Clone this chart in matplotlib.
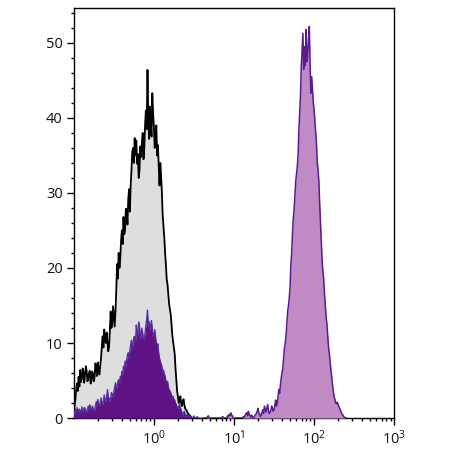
"""Flow cytometry overlay: isotype control (grey), unstained (dark purple), stained (light purple)."""

import matplotlib
matplotlib.use("Agg")
import matplotlib.pyplot as plt
import numpy as np
from matplotlib.ticker import LogLocator, MultipleLocator

plt.rcParams["font.family"] = ["Open Sans", "DejaVu Sans"]
plt.rcParams["mathtext.fontset"] = "custom"
plt.rcParams["mathtext.rm"] = "Open Sans"

# histogram bins: log10 centres, step 0.01 decade
LOG_STEP = 0.01

# grey isotype histogram, bins from log10 = -1.00 to 0.48
isotype_start = -1.0
isotype_counts = [
    1.0, 1.6, 2.5, 3.9, 4.6, 3.6, 5.5, 4.2, 6.4, 4.8,
    5.2, 6.6, 6.1, 4.7, 5.7, 6.9, 6.3, 4.9, 5.2, 6.0,
    6.3, 4.6, 5.0, 6.2, 5.9, 4.9, 5.5, 7.3, 6.8, 5.6,
    7.4, 6.1, 5.8, 7.0, 8.0, 9.6, 10.9, 9.4, 11.8, 10.3,
    10.0, 11.4, 10.1, 8.9, 9.5, 11.6, 14.2, 12.0, 12.8, 14.9,
    13.6, 12.2, 14.2, 16.9, 20.5, 18.6, 22.0, 20.0, 21.3, 23.6,
    25.0, 23.2, 26.8, 24.5, 25.1, 27.9, 27.6, 25.8, 29.2, 30.5,
    27.5, 31.0, 33.0, 35.5, 36.0, 34.0, 37.3, 35.0, 37.0, 33.9,
    35.2, 32.0, 33.0, 36.2, 34.8, 36.6, 38.0, 34.5, 36.0, 39.2,
    41.0, 38.5, 46.4, 40.0, 37.2, 41.5, 39.8, 37.5, 43.3, 40.6,
    38.8, 36.0, 37.0, 39.0, 35.0, 36.4, 33.5, 31.0, 34.0, 32.2,
    30.0, 27.0, 25.5, 24.0, 22.0, 20.4, 18.5, 17.8, 16.5, 15.2,
    14.5, 13.8, 12.5, 11.0, 10.2, 9.5, 8.5, 6.6, 5.0, 3.6,
    2.8, 2.0, 2.3, 2.9, 2.0, 1.6, 2.2, 2.5, 1.8, 1.3,
    1.1, 1.0, 0.7, 0.6, 0.4, 0.3, 0.2, 0.1, 0.0,
]

# dark purple histogram, bins from log10 = -1.00 to 0.56
unstained_start = -1.0
unstained_counts = [
    0.9, 0.5, 1.2, 0.7, 1.4, 1.1, 0.8, 1.2, 1.0, 0.6,
    1.5, 0.9, 1.0, 1.4, 1.3, 0.8, 0.9, 1.2, 1.6, 1.1,
    1.8, 1.2, 1.0, 1.6, 1.4, 0.9, 1.1, 1.7, 2.2, 1.5,
    2.5, 1.9, 1.6, 2.1, 2.7, 2.0, 1.8, 2.4, 3.1, 2.3,
    2.2, 2.9, 3.8, 2.9, 2.6, 2.2, 2.7, 3.4, 3.2, 2.7,
    3.6, 4.1, 4.7, 3.9, 4.2, 4.9, 5.1, 4.6, 5.6, 5.0,
    6.2, 5.8, 6.9, 6.4, 7.6, 6.8, 7.8, 8.4, 8.7, 7.9,
    9.1, 9.8, 10.4, 9.3, 10.0, 10.8, 10.9, 10.1, 12.4, 11.2,
    11.3, 12.8, 12.2, 10.6, 11.0, 12.0, 11.3, 10.4, 10.5, 11.5,
    12.4, 13.2, 14.4, 12.1, 12.9, 11.7, 12.4, 13.0, 11.8, 10.9,
    11.2, 11.8, 10.9, 10.0, 9.6, 9.9, 8.7, 8.0, 7.6, 7.2,
    6.9, 6.0, 6.4, 5.9, 5.6, 5.0, 4.7, 4.9, 4.2, 3.8,
    3.6, 3.4, 3.1, 2.6, 2.9, 2.5, 2.4, 2.0, 1.8, 1.5,
    1.3, 1.6, 1.8, 1.4, 1.1, 0.7, 0.4, 0.7, 0.9, 0.5,
    0.2, 0.4, 0.5, 0.2, 0.3, 0.1, 0.2, 0.1, 0.0, 0.0,
    0.3, 0.1, 0.0, 0.0, 0.2, 0.1, 0.0,
]

# light purple stained histogram, bins from log10 = 0.60 to 2.40
stained_start = 0.60
stained_counts = [
    0.0, 0.0, 0.0, 0.0, 0.0, 0.0, 0.0, 0.2, 0.3, 0.0,
    0.0, 0.0, 0.0, 0.0, 0.0, 0.0, 0.0, 0.0, 0.0, 0.0,
    0.0, 0.0, 0.0, 0.0, 0.0, 0.1, 0.2, 0.0, 0.0, 0.0,
    0.0, 0.0, 0.3, 0.2, 0.5, 0.3, 0.7, 0.4, 0.3, 0.0,
    0.0, 0.0, 0.0, 0.0, 0.0, 0.0, 0.0, 0.0, 0.0, 0.0,
    0.0, 0.1, 0.2, 0.1, 0.4, 0.6, 0.7, 0.3, 0.9, 0.5,
    0.3, 0.1, 0.4, 0.2, 0.0, 0.1, 0.3, 0.5, 0.6, 0.9,
    1.3, 0.7, 0.5, 0.2, 0.4, 0.8, 1.1, 0.6, 1.6, 1.2,
    0.8, 1.3, 1.8, 1.0, 0.6, 0.8, 1.0, 1.6, 1.3, 0.9,
    1.1, 1.7, 2.4, 1.6, 2.0, 2.9, 3.8, 3.3, 4.5, 5.4,
    6.0, 6.8, 8.0, 9.3, 10.0, 11.0, 12.5, 14.2, 15.0, 16.0,
    17.5, 20.5, 22.0, 24.6, 26.5, 27.8, 29.5, 31.5, 32.5, 33.5,
    35.0, 38.4, 40.7, 43.0, 46.9, 49.0, 51.3, 46.5, 49.5, 47.0,
    51.8, 47.5, 48.2, 50.5, 52.2, 47.0, 43.3, 45.5, 43.8, 42.0,
    41.1, 39.5, 38.0, 36.5, 34.0, 33.0, 31.5, 28.5, 26.0, 23.5,
    21.0, 19.5, 18.5, 16.5, 15.0, 13.5, 12.5, 11.0, 9.5, 8.6,
    7.5, 6.4, 5.5, 4.4, 3.5, 2.8, 2.5, 2.0, 1.9, 2.1,
    1.8, 1.5, 1.3, 1.0, 0.7, 0.5, 0.4, 0.2, 0.1, 0.0,
    0.0,
]

x_ticks = [1e0, 1e1, 1e2, 1e3]


def centres(start, n):
    return 10 ** (start + LOG_STEP * np.arange(n))


fig = plt.figure(figsize=(4.5, 4.5), dpi=100)
ax = fig.add_axes([0.164, 0.071, 0.712, 0.912])

x_iso = centres(isotype_start, len(isotype_counts))
ax.fill_between(x_iso, isotype_counts, 0, color="#dedede", lw=0, zorder=1)
ax.plot(x_iso, isotype_counts, color="black", lw=1.3, zorder=2)

x_uns = centres(unstained_start, len(unstained_counts))
ax.fill_between(x_uns, unstained_counts, 0, color="#5e1283", lw=0, zorder=3)
ax.plot(x_uns, unstained_counts, color="#5428a0", lw=0.9, zorder=4)

x_st = centres(stained_start, len(stained_counts))
ax.fill_between(x_st, stained_counts, 0, color="#c08bc4", lw=0, zorder=3)
ax.plot(x_st, stained_counts, color="#5a1a92", lw=1.1, zorder=4)

ax.set_xscale("log")
ax.set_xlim(0.1, 1000)
ax.set_ylim(0, 54.7)
ax.set_xticks(x_ticks)
ax.xaxis.set_minor_locator(LogLocator(base=10, subs=np.arange(2, 10)))
ax.xaxis.set_minor_formatter(plt.NullFormatter())
ax.yaxis.set_major_locator(MultipleLocator(10))
ax.yaxis.set_minor_locator(MultipleLocator(2))

ax.tick_params(which="both", direction="out", top=False, right=False,
               width=1.0, labelsize=10.5, labelcolor="#111111")
ax.tick_params(which="major", length=5)
ax.tick_params(which="minor", length=2.5)
ax.tick_params(axis="x", pad=3)
ax.tick_params(axis="y", pad=3)
for sp in ax.spines.values():
    sp.set_linewidth(1.0)

fig.savefig("out.png", dpi=100)
plt.close(fig)
